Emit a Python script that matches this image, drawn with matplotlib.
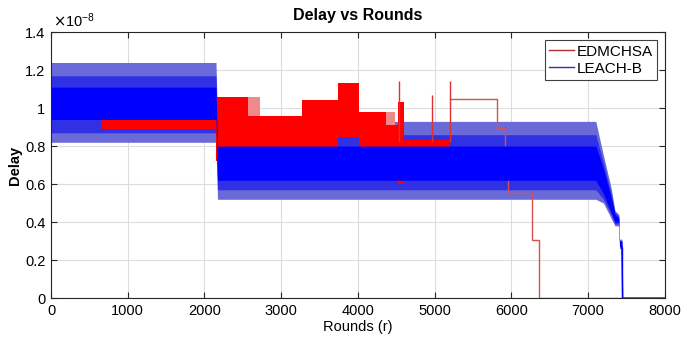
import numpy as np
import matplotlib
matplotlib.use('Agg')
import matplotlib.pyplot as plt
from matplotlib.lines import Line2D
from matplotlib.ticker import FuncFormatter

# delay values are in units of 1e-8
# LEACH-B : envelope of the noisy trace (outer = spikes, mid = busy, core = dense part)
blue_x = [0, 2150, 2170, 7100, 7200, 7300, 7350, 7400, 7410, 7440, 7450, 8000]
blue_outer_low = [0.82, 0.82, 0.52, 0.52, 0.50, 0.42, 0.38, 0.38, 0.26, 0.26, 0.0, 0.0]
blue_outer_high = [1.24, 1.24, 0.93, 0.93, 0.75, 0.58, 0.46, 0.44, 0.31, 0.31, 0.0, 0.0]
blue_mid_low = [0.87, 0.87, 0.57, 0.57, 0.52, 0.44, 0.39, 0.39, 0.27, 0.27, 0.0, 0.0]
blue_mid_high = [1.17, 1.17, 0.86, 0.86, 0.71, 0.55, 0.45, 0.43, 0.30, 0.30, 0.0, 0.0]
blue_core_low = [0.94, 0.94, 0.62, 0.62, 0.55, 0.45, 0.40, 0.40, 0.27, 0.27, 0.0, 0.0]
blue_core_high = [1.11, 1.11, 0.80, 0.80, 0.68, 0.53, 0.44, 0.42, 0.30, 0.30, 0.0, 0.0]

# EDMCHSA : filled blocks (fast oscillation between low and top)
red_block_start = [650, 2150, 2570, 3270, 3740, 4010, 4365, 4520, 4600]
red_block_end = [2150, 2570, 3270, 3740, 4010, 4365, 4520, 4600, 5200]
red_block_top = [1.00, 1.06, 0.96, 1.04, 1.13, 0.98, 0.91, 1.03, 0.83]
red_block_low = [0.89, 0.72, 0.72, 0.72, 0.85, 0.72, 0.72, 0.60, 0.79]

# thin red lines area
red_thin_start = [2570, 4365]
red_thin_end = [2720, 4480]
red_thin_top = [1.06, 0.98]
red_thin_low = [0.96, 0.91]

red_spike_x = [4530, 4965, 5200]
red_spike_top = [1.14, 1.07, 1.14]
red_spike_low = [0.82, 0.82, 0.82]

# EDMCHSA : tail as a step line
red_line_x = [5200, 5810, 5915, 5955, 6270, 6360, 8000]
red_line_y = [1.047, 0.895, 0.72, 0.553, 0.305, 0.0, 0.0]

x_ticks = [0, 1000, 2000, 3000, 4000, 5000, 6000, 7000, 8000]
y_ticks = [0, 0.2, 0.4, 0.6, 0.8, 1.0, 1.2, 1.4]

plt.rcParams['font.family'] = ['Liberation Sans', 'DejaVu Sans']

fig = plt.figure(figsize=(6.94, 3.45), dpi=100)
ax = fig.add_axes([0.0735, 0.136, 0.8845, 0.771])

red = '#ff0000'
blue = '#0000ff'

# blue spikes and busy part (behind the red blocks)
ax.fill_between(blue_x, blue_outer_low, blue_outer_high, color='#6a6ad8',
                linewidth=0, zorder=1.5)
ax.fill_between(blue_x, blue_mid_low, blue_mid_high, color='#2222e8', alpha=0.8,
                linewidth=0, zorder=2)

# red blocks
widths = np.array(red_block_end) - np.array(red_block_start)
heights = np.array(red_block_top) - np.array(red_block_low)
ax.bar(red_block_start, heights, width=widths, bottom=red_block_low, align='edge',
       color=red, linewidth=0, zorder=3)
widths = np.array(red_thin_end) - np.array(red_thin_start)
heights = np.array(red_thin_top) - np.array(red_thin_low)
ax.bar(red_thin_start, heights, width=widths, bottom=red_thin_low, align='edge',
       color='#f08a8a', linewidth=0, zorder=3)
ax.vlines(red_spike_x, red_spike_low, red_spike_top, color='#e03030', lw=1.0, zorder=3)
ax.plot(red_line_x, red_line_y, drawstyle='steps-post', color='#d85050', lw=1.0, zorder=2.5)

# blue dense trace on top
ax.fill_between(blue_x, blue_core_low, blue_core_high, color=blue, linewidth=0, zorder=4)
ax.plot(blue_x[-3:], blue_core_low[-3:], color=blue, lw=1.0, zorder=4)
ax.vlines([blue_x[-3]], [0], [blue_core_low[-4]], color=blue, lw=1.0, zorder=4)

ax.set_xlim(0, 8000)
ax.set_ylim(0, 1.4)
ax.set_xticks(x_ticks)
ax.set_yticks(y_ticks)
ax.yaxis.set_major_formatter(FuncFormatter(lambda v, p: '%g' % v))
ax.tick_params(direction='in', top=True, right=True, labelsize=10.5, length=4,
               color='#262626', pad=4)
ax.grid(True, color='#dcdcdc', lw=0.8, zorder=0)
ax.set_axisbelow(True)
for s in ax.spines.values():
    s.set_color('#262626')
    s.set_linewidth(0.8)

ax.text(0.003, 1.008, r'$\times\mathregular{10^{-8}}$', transform=ax.transAxes,
        fontsize=10.5, ha='left', va='bottom')
ax.set_title('Delay vs Rounds', fontsize=11.5, fontweight='bold', pad=9)
ax.set_xlabel('Rounds (r)', fontsize=10.5, labelpad=2)
ax.set_ylabel('Delay', fontsize=10.5, fontweight='bold', labelpad=2)

handles = [Line2D([], [], color='#b03030', lw=1.0),
           Line2D([], [], color='#3030b0', lw=1.0)]
leg = ax.legend(handles, ['EDMCHSA', 'LEACH-B'], loc='upper right',
                bbox_to_anchor=(0.988, 0.97), fontsize=11, fancybox=False,
                framealpha=1, edgecolor='#404040', handlelength=1.6,
                handletextpad=0.2, borderpad=0.3, labelspacing=0.2,
                borderaxespad=0)
leg.get_frame().set_linewidth(0.8)
leg.set_zorder(10)

fig.savefig('out.png', dpi=100)
